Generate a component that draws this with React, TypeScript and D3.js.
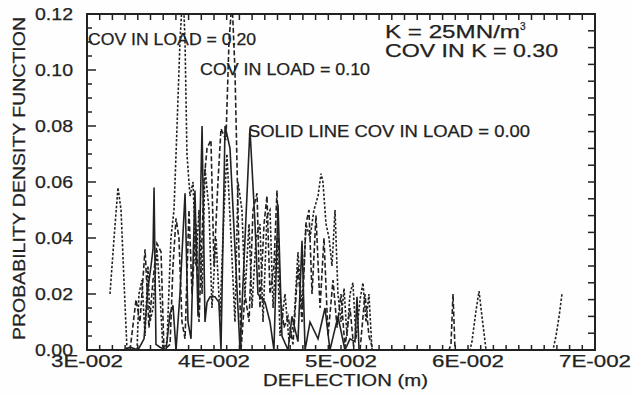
import { useEffect, useRef } from 'react';
import * as d3 from 'd3';

// deflection (m) / density for each load COV
const solidX = [0.03291, 0.03339, 0.03402, 0.03449, 0.0348, 0.03504, 0.0352, 0.03528, 0.03543, 0.03575, 0.03622, 0.03654, 0.03677, 0.03701, 0.03732, 0.03772, 0.03795, 0.03819, 0.0385, 0.03874, 0.03906, 0.03929, 0.03945, 0.03969, 0.04008, 0.04039, 0.04055, 0.04087, 0.04126, 0.04205, 0.04283, 0.04323, 0.04346, 0.04402, 0.04441, 0.04472, 0.04504, 0.04535, 0.04583, 0.04614, 0.04661, 0.04693, 0.04717, 0.04756, 0.04819, 0.04874, 0.04913, 0.04976, 0.05031, 0.05071, 0.0511, 0.05126, 0.05142, 0.05189];
const solidY = [0, 0.001, 0, 0.004, 0.022, 0.03, 0.036, 0.058, 0.002, 0.001, 0, 0.013, 0.016, 0, 0.02, 0.056, 0.01, 0.004, 0.057, 0.012, 0.08, 0.01, 0.017, 0.019, 0.019, 0.017, 0, 0.08, 0.072, 0, 0.079, 0.045, 0.02, 0.017, 0.01, 0, 0.052, 0.005, 0, 0.012, 0.003, 0.039, 0, 0.01, 0.004, 0.015, 0, 0.012, 0, 0.004, 0.003, 0.019, 0, 0];

const cov10X = [0.03339, 0.03386, 0.03417, 0.03457, 0.03488, 0.0352, 0.03551, 0.03583, 0.03606, 0.03654, 0.03677, 0.03701, 0.03724, 0.03748, 0.03772, 0.03803, 0.03827, 0.03858, 0.03882, 0.03921, 0.03945, 0.03976, 0.04, 0.04031, 0.04055, 0.04094, 0.04118, 0.04142, 0.04165, 0.04189, 0.04213, 0.04244, 0.04276, 0.04307, 0.04339, 0.04362, 0.04394, 0.04417, 0.04441, 0.04472, 0.04496, 0.0452, 0.04551, 0.04583, 0.04622, 0.04661, 0.04693, 0.04724, 0.04748, 0.04772, 0.04803, 0.04835, 0.04866, 0.04898, 0.04937, 0.04969, 0.05, 0.05031, 0.05071, 0.05102, 0.0515, 0.05189, 0.0522, 0.05252, 0.05465, 0.0585, 0.05866, 0.05882, 0.05898, 0.05937];
const cov10Y = [0, 0.018, 0.01, 0.036, 0.008, 0.025, 0.038, 0.035, 0, 0.002, 0.03, 0.047, 0.04, 0.01, 0.004, 0.05, 0.02, 0.045, 0.01, 0.06, 0.072, 0.075, 0.03, 0.06, 0.079, 0.075, 0.11, 0.125, 0.1, 0.05, 0, 0.02, 0.01, 0.05, 0.056, 0.015, 0.045, 0.055, 0.02, 0.03, 0.057, 0.02, 0.008, 0.012, 0.002, 0.03, 0.01, 0.045, 0.05, 0.02, 0.048, 0.015, 0.04, 0.005, 0.025, 0.008, 0.02, 0.001, 0.015, 0, 0, 0.02, 0.005, 0, 0, 0, 0.002, 0.02, 0, 0];

const cov20X = [0.03181, 0.03213, 0.03244, 0.03268, 0.03291, 0.03315, 0.03354, 0.03394, 0.03409, 0.03433, 0.03457, 0.0348, 0.03496, 0.0352, 0.03551, 0.03575, 0.03598, 0.0363, 0.03661, 0.03685, 0.03709, 0.03732, 0.03756, 0.03772, 0.03787, 0.03811, 0.03835, 0.03858, 0.03882, 0.03906, 0.03929, 0.03961, 0.03984, 0.04016, 0.04047, 0.04079, 0.04102, 0.04134, 0.04165, 0.04189, 0.0422, 0.04244, 0.04276, 0.04299, 0.04331, 0.04362, 0.04386, 0.04417, 0.04441, 0.04465, 0.04496, 0.0452, 0.04559, 0.04591, 0.0463, 0.04661, 0.04693, 0.04724, 0.04756, 0.04787, 0.04819, 0.04843, 0.04858, 0.04882, 0.04906, 0.04929, 0.04953, 0.04976, 0.05, 0.05024, 0.05047, 0.05071, 0.05094, 0.05118, 0.0515, 0.05173, 0.05197, 0.0522, 0.05244, 0.05276, 0.06016, 0.06031, 0.06063, 0.06087, 0.0611, 0.06142, 0.06669, 0.06693, 0.06717, 0.0674];
const cov20Y = [0.02, 0.04, 0.058, 0.05, 0.025, 0, 0, 0, 0.02, 0.025, 0.005, 0.03, 0.01, 0.015, 0.036, 0.02, 0, 0.003, 0.04, 0.05, 0.08, 0.11, 0.13, 0.11, 0.07, 0.055, 0.06, 0.03, 0.05, 0.02, 0.065, 0.05, 0.015, 0.04, 0.012, 0.05, 0.07, 0.04, 0.01, 0.06, 0.05, 0.02, 0.045, 0.015, 0.04, 0.045, 0.01, 0.048, 0.05, 0.015, 0.04, 0.005, 0.02, 0.003, 0.01, 0.035, 0.015, 0.045, 0.04, 0.05, 0.055, 0.063, 0.06, 0.045, 0.04, 0.03, 0.05, 0.02, 0.01, 0.022, 0.005, 0.02, 0.024, 0.004, 0.018, 0.024, 0.01, 0.02, 0, 0, 0, 0.003, 0.014, 0.021, 0.012, 0, 0, 0.005, 0.012, 0.02];

const xTicks = [0.03, 0.04, 0.05, 0.06, 0.07];
const xTickLabels = ['3E-002', '4E-002', '5E-002', '6E-002', '7E-002'];
const yTicks = [0, 0.02, 0.04, 0.06, 0.08, 0.1, 0.12];
const yTickLabels = ['0.00', '0.02', '0.04', '0.06', '0.08', '0.10', '0.12'];

const INK = '#222';
const FONT = '"Liberation Sans", Arial, sans-serif';

const App = () => {
  const svgRef = useRef(null);

  useEffect(() => {
    const svg = d3.select(svgRef.current);
    svg.selectAll('*').remove();

    const left = 87, right = 595, top = 14, bottom = 350;
    const x = d3.scaleLinear().domain([0.03, 0.07]).range([left, right]);
    const y = d3.scaleLinear().domain([0, 0.12]).range([bottom, top]);

    svg.append('rect').attr('width', 633).attr('height', 396).attr('fill', '#fefefe');

    svg
      .append('clipPath')
      .attr('id', 'plot-clip')
      .append('rect')
      .attr('x', left)
      .attr('y', top)
      .attr('width', right - left)
      .attr('height', bottom - top);

    const line = d3
      .line()
      .x((d) => x(d[0]))
      .y((d) => y(d[1]));

    const series = [
      { xs: cov20X, ys: cov20Y, dash: '2.5,1.8' },
      { xs: cov10X, ys: cov10Y, dash: '5,2.5' },
      { xs: solidX, ys: solidY, dash: null },
    ];

    const plot = svg.append('g').attr('clip-path', 'url(#plot-clip)');
    series.forEach((s) => {
      plot
        .append('path')
        .datum(d3.zip(s.xs, s.ys))
        .attr('d', line)
        .attr('fill', 'none')
        .attr('stroke', INK)
        .attr('stroke-width', 1.6)
        .attr('stroke-dasharray', s.dash);
    });

    // Frame
    svg
      .append('rect')
      .attr('x', left)
      .attr('y', top)
      .attr('width', right - left)
      .attr('height', bottom - top)
      .attr('fill', 'none')
      .attr('stroke', INK)
      .attr('stroke-width', 2);

    const ticks = svg.append('g').attr('stroke', INK).attr('stroke-width', 1.5);

    // bottom and top minor ticks every 0.001
    d3.range(31, 70).forEach((i) => {
      const px = x(i / 1000);
      ticks.append('line').attr('x1', px).attr('x2', px).attr('y1', bottom).attr('y2', bottom - 5);
      ticks.append('line').attr('x1', px).attr('x2', px).attr('y1', top).attr('y2', top + 6);
    });

    // left ticks every 0.005, longer at labels
    d3.range(1, 24).forEach((i) => {
      const py = y(i * 0.005);
      const len = i % 4 === 0 ? 9 : 5;
      ticks.append('line').attr('x1', left).attr('x2', left + len).attr('y1', py).attr('y2', py);
    });

    // right ticks every 0.006
    d3.range(1, 20).forEach((i) => {
      const py = y(i * 0.006);
      ticks.append('line').attr('x1', right).attr('x2', right - 7).attr('y1', py).attr('y2', py);
    });

    const text = svg
      .append('g')
      .attr('fill', INK)
      .attr('stroke', INK)
      .attr('stroke-width', 0.25)
      .style('font-family', FONT);

    // y tick labels
    yTicks.forEach((v, i) => {
      text
        .append('text')
        .attr('x', 73)
        .attr('y', y(v) + 6)
        .attr('text-anchor', 'end')
        .attr('textLength', 38)
        .attr('lengthAdjust', 'spacingAndGlyphs')
        .style('font-size', '17px')
        .text(yTickLabels[i]);
    });

    // x tick labels
    xTicks.forEach((v, i) => {
      text
        .append('text')
        .attr('x', x(v) - 36)
        .attr('y', 367)
        .attr('textLength', 72)
        .attr('lengthAdjust', 'spacingAndGlyphs')
        .style('font-size', '17px')
        .text(xTickLabels[i]);
    });

    // axis titles
    text
      .append('text')
      .attr('x', 263)
      .attr('y', 386)
      .attr('textLength', 165)
      .attr('lengthAdjust', 'spacingAndGlyphs')
      .style('font-size', '17px')
      .text('DEFLECTION (m)');

    text
      .append('text')
      .attr('transform', 'translate(25,340) rotate(-90)')
      .attr('textLength', 323)
      .attr('lengthAdjust', 'spacingAndGlyphs')
      .style('font-size', '17px')
      .text('PROBABILITY DENSITY FUNCTION');

    // annotations
    const notes = [
      { t: 'COV IN LOAD = 0.20', x: 88, y: 45, w: 168, fs: 16 },
      { t: 'COV IN LOAD = 0.10', x: 200, y: 75, w: 170, fs: 16 },
      { t: 'SOLID LINE COV IN LOAD = 0.00', x: 248, y: 137, w: 282, fs: 16 },
      { t: 'COV IN K = 0.30', x: 385, y: 57, w: 173, fs: 18 },
    ];
    notes.forEach((n) => {
      text
        .append('text')
        .attr('x', n.x)
        .attr('y', n.y)
        .attr('textLength', n.w)
        .attr('lengthAdjust', 'spacingAndGlyphs')
        .style('font-size', `${n.fs}px`)
        .text(n.t);
    });

    const k = text
      .append('text')
      .attr('x', 385)
      .attr('y', 38)
      .style('font-size', '18px');
    k.append('tspan').attr('textLength', 135).attr('lengthAdjust', 'spacingAndGlyphs').text('K = 25MN/m');
    k.append('tspan').attr('dy', -8).style('font-size', '10px').text('3');
  }, []);

  return (
    <svg
      ref={svgRef}
      width={633}
      height={396}
      style={{ position: 'absolute', left: 0, top: 0 }}
    />
  );
};

export default App;
